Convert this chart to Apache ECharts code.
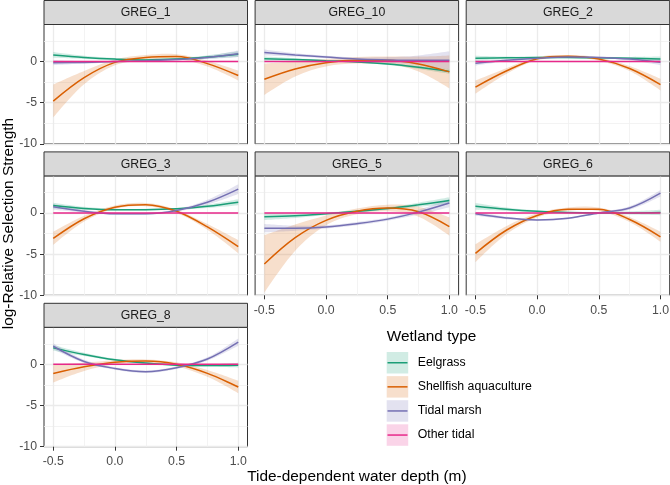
<!DOCTYPE html>
<html>
<head>
<meta charset="utf-8">
<script src="https://cdn.jsdelivr.net/npm/echarts@6/dist/echarts.min.js"></script>
<style>
  html, body { margin: 0; padding: 0; background: #fff; }
  #main { width: 670px; height: 485px; }
</style>
</head>
<body>
<div id="main"></div>
<script>
// facets and x positions where the fits were read
var panels = ['GREG_1', 'GREG_10', 'GREG_2', 'GREG_3', 'GREG_5', 'GREG_6', 'GREG_8'];
var depth = [-0.5, -0.25, 0, 0.25, 0.5, 0.75, 1.0];
var wetTypes = ['Eelgrass', 'Shellfish aquaculture', 'Tidal marsh', 'Other tidal'];
var wetColors = ['#1B9E77', '#D95F02', '#7570B3', '#E7298A'];
var xTicks = [-0.5, 0, 0.5, 1.0];
var xMinor = [-0.25, 0.25, 0.75];
var yTicks = [-10, -5, 0];
var yMinor = [-7.5, -2.5, 2.5];

// fitted log-RSS per panel (same order as panels)
var eelgrassFit = [
  [0.8, 0.5, 0.3, 0.2, 0.3, 0.55, 0.9],
  [0.35, 0.25, 0.1, -0.05, -0.3, -0.7, -1.2],
  [0.4, 0.45, 0.5, 0.5, 0.45, 0.4, 0.3],
  [0.9, 0.55, 0.4, 0.4, 0.5, 0.8, 1.3],
  [-0.45, -0.35, -0.1, 0.2, 0.55, 1.0, 1.5],
  [0.8, 0.45, 0.2, 0.05, 0.0, 0.0, 0.05],
  [2.0, 1.2, 0.55, 0.15, -0.1, -0.15, -0.1]
];
var eelgrassSe = [
  [0.35, 0.2, 0.12, 0.12, 0.12, 0.2, 0.35],
  [0.25, 0.15, 0.1, 0.1, 0.12, 0.2, 0.3],
  [0.3, 0.15, 0.1, 0.1, 0.1, 0.15, 0.3],
  [0.35, 0.2, 0.1, 0.1, 0.1, 0.2, 0.35],
  [0.4, 0.25, 0.15, 0.12, 0.15, 0.25, 0.4],
  [0.4, 0.2, 0.1, 0.1, 0.1, 0.2, 0.35],
  [0.35, 0.2, 0.12, 0.1, 0.1, 0.15, 0.3]
];
var shellfishFit = [
  [-4.8, -1.95, -0.1, 0.5, 0.6, -0.25, -1.7],
  [-2.15, -0.9, -0.15, 0.15, 0.15, -0.3, -1.25],
  [-3.1, -1.15, 0.35, 0.65, 0.3, -0.85, -2.8],
  [-3.1, -0.7, 0.7, 1.0, 0.2, -1.7, -4.1],
  [-6.2, -3.0, -0.9, 0.2, 0.6, 0.15, -1.65],
  [-4.9, -2.1, -0.3, 0.45, 0.45, -0.8, -2.9],
  [-1.1, -0.3, 0.25, 0.4, 0.0, -1.1, -2.75]
];
var shellfishSe = [
  [2.0, 0.8, 0.35, 0.3, 0.3, 0.35, 0.6],
  [1.9, 0.9, 0.45, 0.4, 0.45, 0.9, 2.0],
  [0.8, 0.35, 0.2, 0.15, 0.2, 0.3, 0.7],
  [0.8, 0.35, 0.2, 0.2, 0.2, 0.35, 0.8],
  [3.5, 1.6, 0.6, 0.35, 0.4, 0.6, 1.1],
  [1.1, 0.5, 0.25, 0.2, 0.2, 0.3, 0.6],
  [1.1, 0.5, 0.25, 0.2, 0.25, 0.4, 0.75]
];
var marshFit = [
  [-0.15, -0.1, 0.0, 0.1, 0.25, 0.5, 0.95],
  [1.1, 0.8, 0.55, 0.3, 0.2, 0.15, 0.15],
  [-0.2, 0.15, 0.4, 0.55, 0.5, 0.3, -0.1],
  [0.75, 0.2, -0.1, -0.1, 0.3, 1.3, 2.9],
  [-1.85, -1.85, -1.7, -1.3, -0.75, 0.1, 1.2],
  [-0.1, -0.6, -0.85, -0.65, 0.0, 0.6, 2.4],
  [2.2, 0.35, -0.5, -0.9, -0.4, 0.65, 2.7]
];
var marshSe = [
  [0.3, 0.15, 0.1, 0.1, 0.1, 0.2, 0.4],
  [0.35, 0.2, 0.15, 0.2, 0.35, 0.6, 1.1],
  [0.3, 0.12, 0.1, 0.1, 0.1, 0.15, 0.35],
  [0.35, 0.15, 0.12, 0.12, 0.15, 0.3, 0.6],
  [0.5, 0.3, 0.2, 0.2, 0.2, 0.3, 0.5],
  [0.25, 0.15, 0.1, 0.1, 0.1, 0.2, 0.4],
  [0.35, 0.2, 0.15, 0.15, 0.15, 0.2, 0.45]
];
// reference level, flat at zero in every panel
var otherFit = [
  [0, 0, 0, 0, 0, 0, 0],
  [0, 0, 0, 0, 0, 0, 0],
  [0, 0, 0, 0, 0, 0, 0],
  [0, 0, 0, 0, 0, 0, 0],
  [0, 0, 0, 0, 0, 0, 0],
  [0, 0, 0, 0, 0, 0, 0],
  [0, 0, 0, 0, 0, 0, 0]
];
var otherSe = otherFit;

var fits = [eelgrassFit, shellfishFit, marshFit, otherFit];
var ses = [eelgrassSe, shellfishSe, marshSe, otherSe];

var FONT = '"Liberation Sans", Arial, sans-serif';
var SMOOTH = 0.35;
var colLeft = [44, 255.1, 466.2];
var rowTop = [0.5, 151.9, 303.3];
var pw = 203.5, stripH = 24, ph = 119.4;

function fade(hex, a) {
  var r = parseInt(hex.substr(1, 2), 16), g = parseInt(hex.substr(3, 2), 16), b = parseInt(hex.substr(5, 2), 16);
  return 'rgba(' + r + ',' + g + ',' + b + ',' + a + ')';
}

// same control-point rule as echarts' smoothed line, in pixels
function smoothSegs(pts, s) {
  var n = pts.length, cpIn = [], cpOut = [];
  for (var i = 0; i < n; i++) {
    var p = pts[i];
    if (i === 0 || i === n - 1) { cpIn.push(p); cpOut.push(p); continue; }
    var a = pts[i - 1], b = pts[i + 1];
    var vx = b[0] - a[0], vy = b[1] - a[1];
    var l0 = Math.hypot(p[0] - a[0], p[1] - a[1]), l1 = Math.hypot(b[0] - p[0], b[1] - p[1]);
    var rn = l1 / (l0 + l1 || 1);
    cpIn.push([p[0] - vx * s * (1 - rn), p[1] - vy * s * (1 - rn)]);
    cpOut.push([p[0] + vx * s * rn, p[1] + vy * s * rn]);
  }
  var d = '';
  for (var j = 1; j < n; j++) {
    d += ' C' + cpOut[j - 1][0] + ',' + cpOut[j - 1][1] + ' ' + cpIn[j][0] + ',' + cpIn[j][1] + ' ' + pts[j][0] + ',' + pts[j][1];
  }
  return d;
}

function ribbonRender(lo, hi, color) {
  return function (params, api) {
    if (params.dataIndex !== 0) return;
    var up = depth.map(function (x, j) { return api.coord([x, hi[j]]); });
    var dn = depth.map(function (x, j) { return api.coord([x, lo[j]]); }).reverse();
    var d = 'M' + up[0][0] + ',' + up[0][1] + smoothSegs(up, SMOOTH) +
      ' L' + dn[0][0] + ',' + dn[0][1] + smoothSegs(dn, SMOOTH) + ' Z';
    return { type: 'path', shape: { pathData: d }, style: { fill: fade(color, 0.2) } };
  };
}

var chart = echarts.init(document.getElementById('main'));

var grids = [], xAxes = [], yAxes = [], series = [], elements = [];

panels.forEach(function (name, i) {
  var r = Math.floor(i / 3), c = i % 3;
  var showX = (i >= 4);       // bottom panel in its column
  var showY = (c === 0);

  grids.push({
    left: colLeft[c], top: rowTop[r] + stripH, width: pw, height: ph,
    show: true, borderColor: '#333333', borderWidth: 1, backgroundColor: '#fff',
    outerBoundsMode: 'none'
  });

  // major axis (ticks, labels, major grid)
  xAxes.push({
    type: 'value', gridIndex: i, min: -0.575, max: 1.075, position: 'bottom',
    axisLine: { show: false, onZero: false },
    axisTick: { show: showX, customValues: xTicks, length: 4, lineStyle: { color: '#333333', width: 1 } },
    axisLabel: {
      show: showX, customValues: xTicks, margin: 9, color: '#4D4D4D', fontSize: 12.3, fontFamily: FONT,
      formatter: function (v) { return v.toFixed(1); }
    },
    splitLine: { show: true, lineStyle: { color: '#EBEBEB', width: 1.3 } }
  });
  // minor grid
  xAxes.push({
    type: 'value', gridIndex: i, min: -0.575, max: 1.075, position: 'top',
    axisLine: { show: false, onZero: false }, axisLabel: { show: false },
    axisTick: { show: false, customValues: xMinor },
    splitLine: { show: true, lineStyle: { color: '#F0F0F0', width: 0.8 } }
  });
  yAxes.push({
    type: 'value', gridIndex: i, min: -10, max: 4.5, position: 'left',
    axisLine: { show: false, onZero: false },
    axisTick: { show: showY, customValues: yTicks, length: 4, lineStyle: { color: '#333333', width: 1 } },
    axisLabel: { show: showY, customValues: yTicks, margin: 7, color: '#4D4D4D', fontSize: 12.3, fontFamily: FONT },
    splitLine: { show: true, lineStyle: { color: '#EBEBEB', width: 1.3 } }
  });
  yAxes.push({
    type: 'value', gridIndex: i, min: -10, max: 4.5, position: 'right',
    axisLine: { show: false, onZero: false }, axisLabel: { show: false },
    axisTick: { show: false, customValues: yMinor },
    splitLine: { show: true, lineStyle: { color: '#F0F0F0', width: 0.8 } }
  });

  wetTypes.forEach(function (t, k) {
    var fit = fits[k][i], se = ses[k][i];
    if (k < 3) {
      var lo = fit.map(function (v, j) { return v - se[j]; });
      var hi = fit.map(function (v, j) { return v + se[j]; });
      series.push({
        type: 'custom', xAxisIndex: 2 * i, yAxisIndex: 2 * i, silent: true, clip: true,
        encode: { x: 0, y: [1, 2] },
        data: depth.map(function (x, j) { return [x, lo[j], hi[j]]; }),
        renderItem: ribbonRender(lo, hi, wetColors[k])
      });
    }
    series.push({
      name: t, type: 'line', xAxisIndex: 2 * i, yAxisIndex: 2 * i,
      smooth: SMOOTH, symbol: 'none', silent: true,
      lineStyle: { color: wetColors[k], width: 1.5 },
      data: depth.map(function (x, j) { return [x, fit[j]]; })
    });
  });

  // facet strip
  elements.push({
    type: 'rect', shape: { x: colLeft[c], y: rowTop[r], width: pw, height: stripH },
    style: { fill: '#D9D9D9', stroke: '#333333', lineWidth: 1 }, z: 10
  });
  elements.push({
    type: 'text', x: colLeft[c] + pw / 2, y: rowTop[r] + stripH / 2 + 0.5, z: 11,
    style: { text: name, fill: '#1A1A1A', font: '12.3px ' + FONT, align: 'center', verticalAlign: 'middle', textAlign: 'center', textVerticalAlign: 'middle' }
  });
});

// axis titles
elements.push({
  type: 'text', x: 356.9, y: 476.5,
  style: { text: 'Tide-dependent water depth (m)', fill: '#000', font: '15.4px ' + FONT, align: 'center', verticalAlign: 'middle', textAlign: 'center', textVerticalAlign: 'middle' }
});
elements.push({
  type: 'text', x: 9, y: 223.6, rotation: Math.PI / 2,
  style: { text: 'log-Relative Selection Strength', fill: '#000', font: '15.4px ' + FONT, align: 'center', verticalAlign: 'middle', textAlign: 'center', textVerticalAlign: 'middle' }
});

// legend
elements.push({
  type: 'text', x: 386.7, y: 336.5,
  style: { text: 'Wetland type', fill: '#000', font: '15.4px ' + FONT, align: 'left', verticalAlign: 'middle', textAlign: 'left', textVerticalAlign: 'middle' }
});
wetTypes.forEach(function (t, k) {
  var ky = 352 + k * 24.1;
  elements.push({
    type: 'rect', shape: { x: 386.7, y: ky, width: 21.5, height: 21.5 },
    style: { fill: fade(wetColors[k], 0.2) }
  });
  elements.push({
    type: 'line', shape: { x1: 387.5, y1: ky + 10.75, x2: 407.5, y2: ky + 10.75 },
    style: { stroke: wetColors[k], lineWidth: 1.5 }
  });
  elements.push({
    type: 'text', x: 417.7, y: ky + 10.75,
    style: { text: t, fill: '#000', font: '12.3px ' + FONT, align: 'left', verticalAlign: 'middle', textAlign: 'left', textVerticalAlign: 'middle' }
  });
});

var option = {
  animation: false,
  backgroundColor: '#fff',
  grid: grids,
  xAxis: xAxes,
  yAxis: yAxes,
  series: series,
  graphic: { elements: elements }
};
chart.setOption(option);
</script>
</body>
</html>
